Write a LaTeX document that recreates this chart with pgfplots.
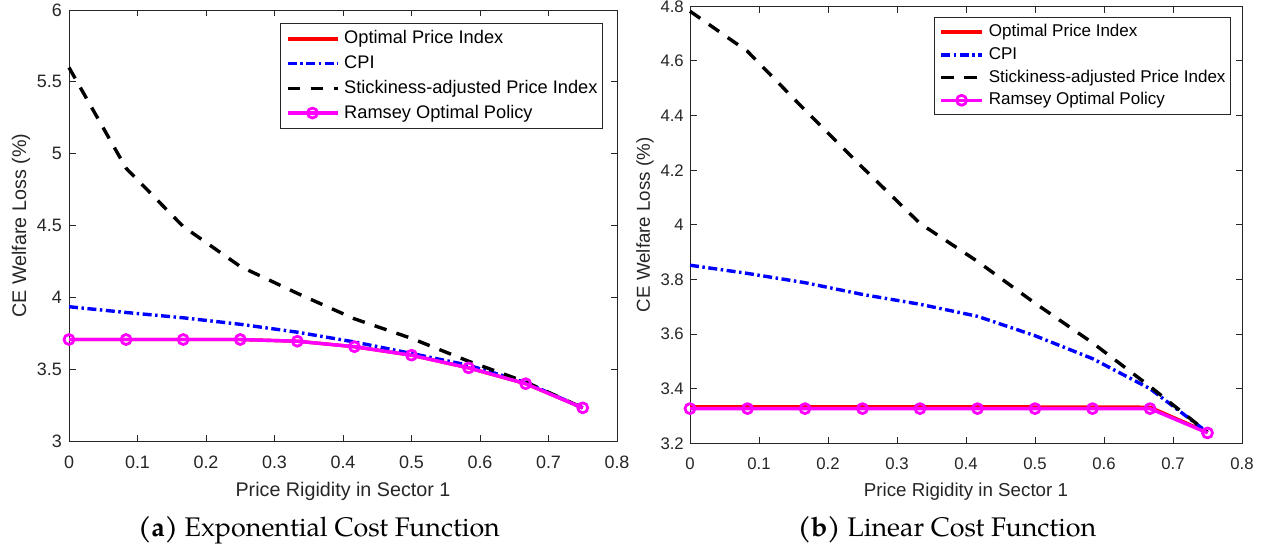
\documentclass[border=0pt]{standalone}
\usepackage{fontspec}
\setmainfont{Liberation Sans}
\newfontfamily\capfont{TeX Gyre Pagella}
\usepackage{pgfplots}
\pgfplotsset{compat=1.18}
\definecolor{axgray}{rgb}{0.15,0.15,0.15}
\definecolor{mred}{rgb}{1,0,0}
\definecolor{mblue}{rgb}{0,0,1}
\definecolor{mmag}{rgb}{1,0,1}
\pgfplotsset{
  common/.style={
    scale only axis,
    clip=false,
    axis line style={axgray, line width=0.9bp},
    every tick/.style={axgray, line width=0.9bp},
    tick align=inside,
    major tick length=6.5bp,
    every tick label/.append style={text=axgray},
    /pgf/number format/assume math mode=true,
    xmin=0, xmax=0.8,
    xtick={0,0.1,0.2,0.3,0.4,0.5,0.6,0.7,0.8},
    xticklabel style={inner sep=0pt, anchor=north, yshift=-14.5bp},
    xlabel={Price Rigidity in Sector 1},
    ylabel={CE Welfare Loss (\%)},
    label style={text=axgray},
    legend cell align=left,
  },
  optst/.style={mred, line width=3.4bp, line join=round},
  cpist/.style={mblue, line width=3.4bp, line join=round, dash pattern=on 9bp off 3.5bp on 2.5bp off 3.5bp},
  stkst/.style={black, line width=3.4bp, line join=round, dash pattern=on 12.5bp off 10.5bp},
  ramst/.style={mmag, line width=3.4bp, line join=round, mark=o, mark size=5bp, mark options={solid, line width=2.8bp}},
}
\begin{document}
\begin{tikzpicture}
\path[use as bounding box, fill=white] (0,0) rectangle (1268bp,550bp);
% ---------------- left panel
\begin{axis}[common,
  at={(69bp,108.5bp)}, anchor=south west,
  width=548bp, height=431.5bp,
  ymin=3, ymax=6,
  ytick={3,3.5,4,4.5,5,5.5,6},
  yticklabel style={inner sep=0pt, anchor=east, xshift=-7bp},
  every tick label/.append style={font=\fontsize{18}{20}\selectfont},
  label style={font=\fontsize{19.8}{22}\selectfont},
  xlabel style={at={([yshift=-55bp]axis description cs:0.5,0)}, anchor=base},
  ylabel style={at={([xshift=-48bp]axis description cs:0,0.5)}, anchor=center},
  legend image code/.code={\draw[mark repeat=2,mark phase=2,#1] plot coordinates {(0bp,0bp) (25bp,0bp) (50bp,0bp)};},
  legend style={at={(1,1)}, anchor=north east, xshift=-14bp, yshift=-13bp,
    draw=axgray, line width=0.9bp, fill=white, inner xsep=5bp, inner ysep=7bp,
    font=\fontsize{18.3}{20}\selectfont, column sep=5bp, row sep=7.7bp,
    nodes={inner sep=0pt, text height=13.5bp, text depth=3.5bp}},
]
\addplot[optst] coordinates {(0,3.709) (0.083333,3.709) (0.166667,3.709) (0.25,3.709) (0.333333,3.697) (0.416667,3.659) (0.5,3.600) (0.583333,3.512) (0.666667,3.402) (0.75,3.234)};
\addlegendentry{Optimal Price Index}
\addplot[cpist] coordinates {(0,3.937) (0.083333,3.897) (0.166667,3.860) (0.25,3.815) (0.333333,3.760) (0.416667,3.692) (0.5,3.612) (0.583333,3.530) (0.666667,3.410) (0.75,3.234)};
\addlegendentry{CPI}
\addplot[stkst] coordinates {(0,5.600) (0.083333,4.900) (0.166667,4.495) (0.25,4.217) (0.333333,4.030) (0.416667,3.853) (0.5,3.717) (0.583333,3.558) (0.666667,3.414) (0.75,3.234)};
\addlegendentry{Stickiness-adjusted Price Index}
\addplot[ramst] coordinates {(0,3.709) (0.083333,3.709) (0.166667,3.709) (0.25,3.709) (0.333333,3.697) (0.416667,3.659) (0.5,3.600) (0.583333,3.512) (0.666667,3.402) (0.75,3.234)};
\addlegendentry{Ramsey Optimal Policy}
\end{axis}
% ---------------- right panel
\begin{axis}[common,
  at={(690bp,106.7bp)}, anchor=south west,
  width=552bp, height=437bp,
  ymin=3.2, ymax=4.8,
  ytick={3.2,3.4,3.6,3.8,4,4.2,4.4,4.6,4.8},
  yticklabel style={inner sep=0pt, anchor=east, xshift=-6bp},
  every tick label/.append style={font=\fontsize{16.8}{19}\selectfont},
  label style={font=\fontsize{18.8}{21}\selectfont},
  xlabel style={at={([yshift=-53.3bp]axis description cs:0.5,0)}, anchor=base},
  ylabel style={at={([xshift=-45bp]axis description cs:0,0.5)}, anchor=center},
  legend image code/.code={\draw[mark repeat=2,mark phase=2,#1] plot coordinates {(0bp,0bp) (20.5bp,0bp) (41bp,0bp)};},
  legend style={at={(1,1)}, anchor=north east, xshift=-11bp, yshift=-11bp,
    draw=axgray, line width=0.9bp, fill=white, inner xsep=5bp, inner ysep=6.5bp,
    font=\fontsize{17.1}{19}\selectfont, column sep=5bp, row sep=6.8bp,
    nodes={inner sep=0pt, text height=12.6bp, text depth=3.3bp}},
]
\addplot[optst] coordinates {(0,3.334) (0.083333,3.334) (0.166667,3.334) (0.25,3.334) (0.333333,3.334) (0.416667,3.334) (0.5,3.333) (0.583333,3.333) (0.666667,3.332) (0.75,3.240)};
\addlegendentry{Optimal Price Index}
\addplot[cpist] coordinates {(0,3.852) (0.083333,3.822) (0.166667,3.788) (0.25,3.745) (0.333333,3.709) (0.416667,3.665) (0.5,3.594) (0.583333,3.510) (0.666667,3.400) (0.75,3.240)};
\addlegendentry{CPI}
\addplot[stkst] coordinates {(0,4.782) (0.083333,4.635) (0.166667,4.420) (0.25,4.210) (0.333333,4.005) (0.416667,3.866) (0.5,3.713) (0.583333,3.568) (0.666667,3.408) (0.75,3.240)};
\addlegendentry{Stickiness-adjusted Price Index}
\addplot[ramst] coordinates {(0,3.327) (0.083333,3.327) (0.166667,3.327) (0.25,3.327) (0.333333,3.327) (0.416667,3.327) (0.5,3.327) (0.583333,3.327) (0.666667,3.327) (0.75,3.238)};
\addlegendentry{Ramsey Optimal Policy}
\end{axis}
% ---------------- captions
\node[anchor=base] at (319bp,14bp) {\capfont\fontsize{27}{30}\selectfont\textbf{(a)} Exponential Cost Function};
\node[anchor=base] at (947bp,14bp) {\capfont\fontsize{27}{30}\selectfont\textbf{(b)} Linear Cost Function};
\end{tikzpicture}
\end{document}
